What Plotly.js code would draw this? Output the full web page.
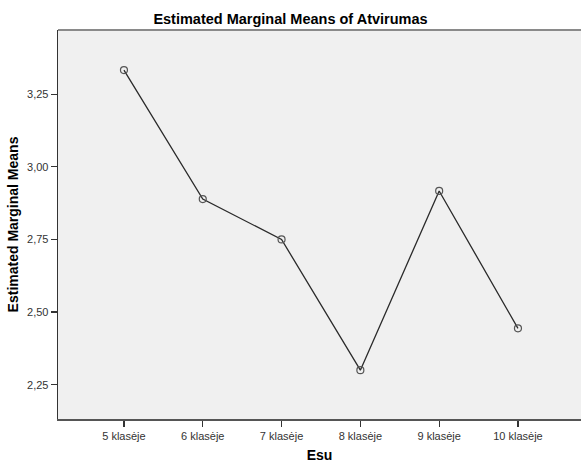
<!DOCTYPE html>
<html>
<head>
<meta charset="utf-8">
<script src="https://cdn.plot.ly/plotly-3.0.1.min.js"></script>
<style>html,body{margin:0;padding:0;background:#fff;}#chart{width:581px;height:463px;}</style>
</head>
<body>
<div id="chart"></div>
<script>
var categories = ["5 klasėje", "6 klasėje", "7 klasėje", "8 klasėje", "9 klasėje", "10 klasėje"];
var means = [3.333, 2.889, 2.750, 2.300, 2.917, 2.444];
var yTickValues = [2.25, 2.50, 2.75, 3.00, 3.25];

var trace = {
  x: categories,
  y: means,
  type: 'scatter',
  mode: 'lines+markers',
  line: {color: '#2a2a2a', width: 1.3},
  marker: {symbol: 'circle-open', size: 7, color: '#555555', line: {width: 1.2, color: '#555555'}},
  hoverinfo: 'x+y'
};

var layout = {
  width: 581,
  height: 463,
  margin: {l: 58, r: 0, t: 30, b: 44},
  paper_bgcolor: '#ffffff',
  plot_bgcolor: '#f0f0f0',
  separators: ',.',
  showlegend: false,
  font: {family: 'Liberation Sans, Arial, sans-serif', color: '#222'},
  title: {
    text: '<b>Estimated Marginal Means of Atvirumas</b>',
    font: {size: 14.5, color: '#000', family: 'Liberation Sans, Arial, sans-serif'},
    x: 0.5, xref: 'container', xanchor: 'center',
    y: 1 - 18.5/463, yref: 'container', yanchor: 'middle'
  },
  xaxis: {
    type: 'category',
    range: [-0.837, 5.8],
    showgrid: false,
    zeroline: false,
    showline: true,
    linecolor: '#555',
    linewidth: 1.5,
    ticks: 'outside',
    ticklen: 6,
    tickwidth: 1.3,
    tickcolor: '#333',
    tickfont: {size: 11, color: '#333'},
    title: {text: '<b>Esu</b>', font: {size: 14, color: '#000'}, standoff: 9},
    automargin: false
  },
  yaxis: {
    range: [2.132, 3.471],
    tickvals: yTickValues,
    tickformat: '.2f',
    showgrid: false,
    zeroline: false,
    showline: true,
    linecolor: '#333',
    linewidth: 1.3,
    ticks: 'outside',
    ticklen: 6,
    tickwidth: 1.3,
    tickcolor: '#333',
    tickfont: {size: 11, color: '#333'},
    title: {text: '<b>Estimated Marginal Means</b>', font: {size: 14, color: '#000'}, standoff: 5},
    automargin: false
  },
  shapes: [
    {type: 'line', xref: 'paper', yref: 'paper', x0: 0, x1: 1, y0: 1, y1: 1,
     line: {color: '#8a8a8a', width: 2}}
  ]
};

Plotly.newPlot('chart', [trace], layout, {displayModeBar: false, staticPlot: true});
</script>
</body>
</html>
